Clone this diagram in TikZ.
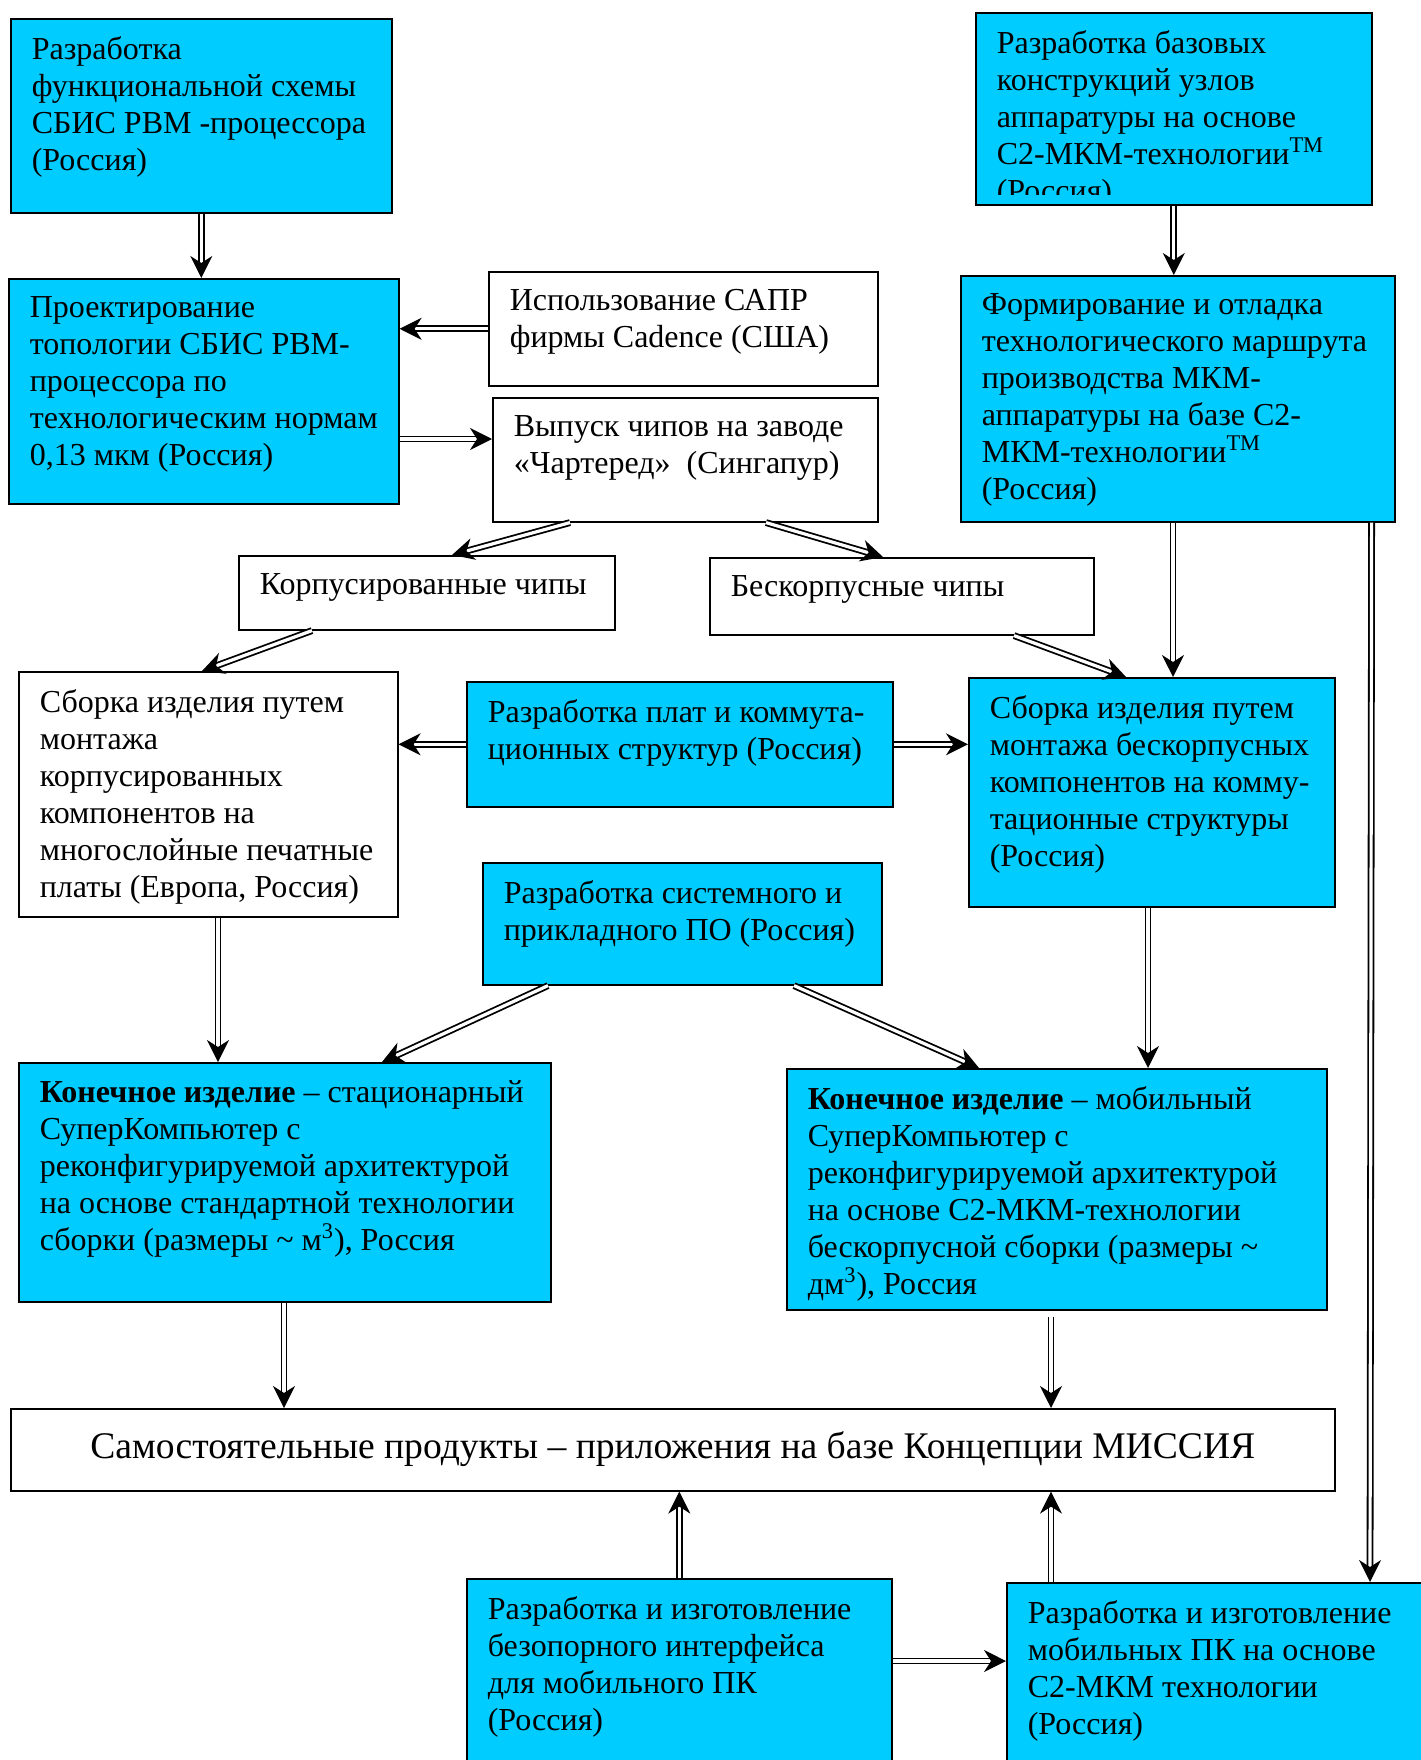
\documentclass[tikz,border=0pt]{standalone}
\usepackage{fontspec}
\setmainfont{Liberation Serif}
\usetikzlibrary{arrows.meta,calc}
\definecolor{skyblue}{HTML}{00CCFF}

% text of a box: width, height (pt), lines
\newcommand{\boxtext}[3]{\parbox[c][\dimexpr#2pt-18pt\relax][t]{\dimexpr#1pt-21pt\relax}{\raggedright #3}}

\tikzset{
  box/.style={draw, line width=0.8pt, anchor=north west, inner xsep=10.5pt, inner ysep=9pt,
    font=\fontsize{16}{18.5}\selectfont},
  bluebox/.style={box, fill=skyblue},
  whitebox/.style={box, fill=white},
  dbl/.style={double, double distance=1.6pt, line width=0.9pt,
    -{Stealth[length=11pt, width=11pt, inset=3.5pt]}}
}

\begin{document}
\begin{tikzpicture}[x=1pt, y=-1pt]
  \useasboundingbox (0,0) rectangle (710,880);
  \fill[white] (0,0) rectangle (710,880);

  % left column, top
  \node[bluebox] (a) at (5,9) {\boxtext{190.5}{97}{Разработка\\функциональной схемы\\СБИС РВМ -процессора\\(Россия)}};
  \node[bluebox] (b) at (4,139) {\boxtext{195}{112.5}{Проектирование\\топологии СБИС РВМ-\\процессора по\\технологическим нормам\\0,13 мкм (Россия)}};
  \node[whitebox] (c) at (244,135.5) {\boxtext{194.5}{57}{Использование САПР\\фирмы Cadence (США)}};
  \node[whitebox] (d) at (246,198.5) {\boxtext{192.5}{62}{Выпуск чипов на заводе\\«Чартеред»\ \ (Сингапур)}};

  % right column, top
  \node[bluebox, minimum width=198pt, minimum height=96pt] (e) at (487.5,6) {};
  \begin{scope}
    \clip (e.north west) rectangle ($(e.south east)+(0,-5.5)$);
    \node[box, draw=none, fill=none] (e-t) at (e.north west) {\boxtext{198}{200}{Разработка базовых\\конструкций узлов\\аппаратуры на основе\\С2-МКМ-технологии\textsuperscript{TM}\\(Россия)}};
  \end{scope}
  \node[bluebox] (f) at (480,137.5) {\boxtext{217}{123}{Формирование и отладка\\технологического маршрута\\производства МКМ-\\аппаратуры на базе С2-\\МКМ-технологии\textsuperscript{TM}\\(Россия)}};

  % chips
  \node[whitebox] (g) at (119,277.5) {\boxtext{188}{37}{Корпусированные чипы}};
  \node[whitebox] (h) at (354.5,278.5) {\boxtext{192}{38.5}{Бескорпусные чипы}};

  % assembly
  \node[whitebox] (i) at (9,335.5) {\boxtext{189.5}{122.5}{Сборка изделия путем\\монтажа\\корпусированных\\компонентов на\\многослойные печатные\\платы (Европа, Россия)}};
  \node[bluebox] (j) at (233,340.5) {\boxtext{213}{62.5}{Разработка плат и коммута-\\ционных структур (Россия)}};
  \node[bluebox] (k) at (484,338.5) {\boxtext{183}{114.5}{Сборка изделия путем\\монтажа бескорпусных\\компонентов на комму-\\тационные структуры\\(Россия)}};
  \node[bluebox] (l) at (241,431) {\boxtext{199.5}{61}{Разработка системного и\\прикладного ПО (Россия)}};

  % end products
  \node[bluebox] (m) at (9,531) {\boxtext{266}{119.5}{\textbf{Конечное изделие} – стационарный\\СуперКомпьютер с\\реконфигурируемой архитектурой\\на основе стандартной технологии\\сборки (размеры \textasciitilde{} м\textsuperscript{3}), Россия}};
  \node[bluebox] (n) at (393,534) {\boxtext{270}{120.5}{\textbf{Конечное изделие} – мобильный\\СуперКомпьютер с\\реконфигурируемой архитектурой\\на основе С2-МКМ-технологии\\бескорпусной сборки (размеры \textasciitilde\\дм\textsuperscript{3}), Россия}};
  \node[whitebox, minimum width=662pt, minimum height=41pt, inner ysep=0pt, font=\fontsize{18.8}{21}\selectfont] (o) at (5,704) {\raisebox{5pt}{Самостоятельные продукты – приложения на базе Концепции МИССИЯ}};

  % bottom
  \node[bluebox] (p) at (233,789) {\boxtext{212.5}{96}{Разработка и изготовление\\безопорного интерфейса\\для мобильного ПК\\(Россия)}};
  \node[bluebox] (q) at (503,791) {\boxtext{212}{96}{Разработка и изготовление\\мобильных ПК на основе\\С2-МКМ технологии\\(Россия)}};

  % connectors
  \draw[dbl] (a.south) -- (a.south |- b.north);
  \draw[dbl] (c.west) -- (c.west -| b.east);
  \draw[dbl] (b.east |- 0,219.5) -- (d.west |- 0,219.5);
  \draw[dbl] ($(d.south west)+(39,0)$) -- ($(g.north west)+(107,0)$);
  \draw[dbl] ($(d.south west)+(137,0)$) -- ($(h.north west)+(87,0)$);
  \draw[dbl] ($(g.south west)+(37,0)$) -- ($(i.north west)+(92,0)$);
  \draw[dbl] ($(h.south west)+(152.5,0)$) -- ($(k.north west)+(79,0)$);
  \draw[dbl] (e.south) -- (e.south |- f.north);
  \draw[dbl] ($(f.south west)+(106.5,0)$) -- ($(k.north west)+(102.5,0)$);
  \draw[dbl] ($(f.south east)+(-12,0)$) -- ($(q.north west)+(182,0)$);
  \draw[dbl] (j.west) -- (j.west -| i.east);
  \draw[dbl] (j.east) -- (j.east -| k.west);
  \draw[dbl] ($(i.south west)+(100,0)$) -- ($(m.north west)+(100,0)$);
  \draw[dbl] ($(l.south west)+(33,0)$) -- ($(m.north west)+(182,0)$);
  \draw[dbl] ($(l.south west)+(156,0)$) -- ($(n.north west)+(96.5,0)$);
  \draw[dbl] ($(k.south west)+(90,0)$) -- ($(n.north west)+(181,0)$);
  \draw[dbl] ($(m.south west)+(133,0)$) -- ($(o.north west)+(137,0)$);
  \draw[dbl] ($(n.south west)+(132.5,3)$) -- ($(o.north west)+(520.5,0)$);
  \draw[dbl] (p.north) -- (p.north |- o.south);
  \draw[dbl] ($(q.north west)+(22.5,0)$) -- ($(o.south west)+(520.5,0)$);
  \draw[dbl] (p.east |- 0,830.5) -- (q.west |- 0,830.5);
\end{tikzpicture}
\end{document}
